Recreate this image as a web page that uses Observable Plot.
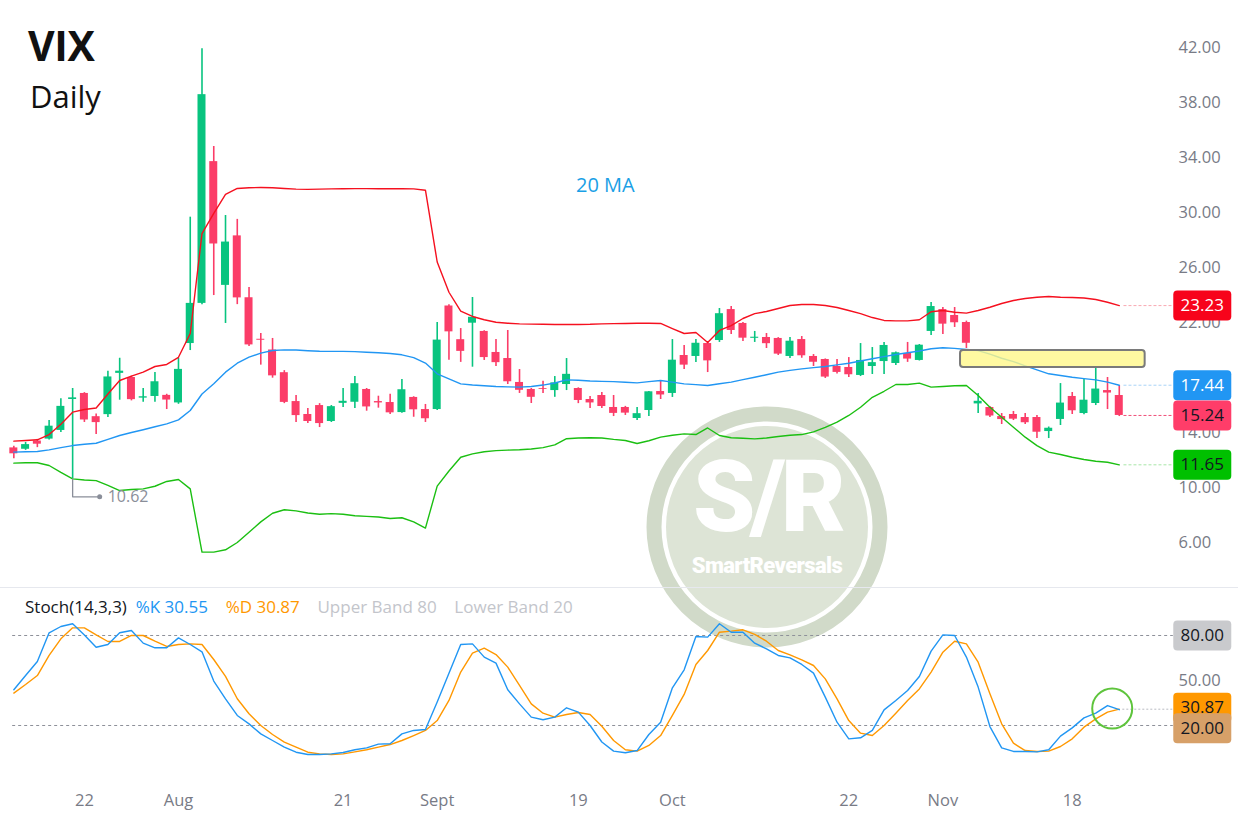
<!DOCTYPE html>
<html>
<head>
<meta charset="utf-8">
<script src="https://cdn.jsdelivr.net/npm/d3@7"></script>
<script src="https://cdn.jsdelivr.net/npm/@observablehq/plot@0.6"></script>
<style>
  html, body { margin: 0; padding: 0; background: #ffffff; }
  #root { position: relative; width: 1238px; height: 816px; overflow: hidden; font-family: "Open Sans", "Noto Sans", sans-serif; }
  .layer { position: absolute; left: 0; }
  #title { position: absolute; left: 28px; top: 17px; font-size: 41px; font-weight: 700; color: #111; letter-spacing: -0.3px; }
  #sub { position: absolute; left: 30px; top: 75px; font-size: 31px; color: #111; }
  #stochHead { position: absolute; left: 25px; top: 595px; font-size: 17px; white-space: pre; }
  #sep { position: absolute; left: 0; top: 587px; width: 1238px; height: 1px; background: #e6e8ee; }
</style>
</head>
<body>
<div id="root">
  <div id="wm" class="layer" style="top:0"></div>
  <div id="main" class="layer" style="top:0"></div>
  <div id="sep"></div>
  <div id="stoch" class="layer" style="top:588px"></div>
  <div id="title">VIX</div>
  <div id="sub">Daily</div>
  <div id="stochHead"><span style="color:#131722">Stoch(14,3,3)</span>  <span style="color:#2196f3">%K 30.55</span>    <span style="color:#ff9800">%D 30.87</span>    <span style="color:#c3c5cb">Upper Band 80</span>    <span style="color:#c3c5cb">Lower Band 20</span></div>
</div>
<script>
// ---------------- DATA ----------------
const dates = [
  "2024-07-12","2024-07-15","2024-07-16","2024-07-17","2024-07-18","2024-07-19","2024-07-22","2024-07-23","2024-07-24","2024-07-25","2024-07-26","2024-07-29","2024-07-30","2024-07-31",
  "2024-08-01","2024-08-02","2024-08-05","2024-08-06","2024-08-07","2024-08-08","2024-08-09","2024-08-12","2024-08-13","2024-08-14","2024-08-15","2024-08-16","2024-08-19","2024-08-20","2024-08-21","2024-08-22","2024-08-23","2024-08-26","2024-08-27","2024-08-28","2024-08-29","2024-08-30",
  "2024-09-03","2024-09-04","2024-09-05","2024-09-06","2024-09-09","2024-09-10","2024-09-11","2024-09-12","2024-09-13","2024-09-16","2024-09-17","2024-09-18","2024-09-19","2024-09-20","2024-09-23","2024-09-24","2024-09-25","2024-09-26","2024-09-27","2024-09-30",
  "2024-10-01","2024-10-02","2024-10-03","2024-10-04","2024-10-07","2024-10-08","2024-10-09","2024-10-10","2024-10-11","2024-10-14","2024-10-15","2024-10-16","2024-10-17","2024-10-18","2024-10-21","2024-10-22","2024-10-23","2024-10-24","2024-10-25","2024-10-28","2024-10-29","2024-10-30","2024-10-31",
  "2024-11-01","2024-11-04","2024-11-05","2024-11-06","2024-11-07","2024-11-08","2024-11-11","2024-11-12","2024-11-13","2024-11-14","2024-11-15","2024-11-18","2024-11-19","2024-11-20","2024-11-21","2024-11-22"
];
const open = [12.88,12.78,13.38,13.52,14.15,16.40,16.84,15.15,15.30,18.30,18.00,16.50,16.62,16.70,
  16.15,20.47,23.39,33.70,24.70,28.30,23.80,20.78,20.00,18.35,16.25,15.31,15.96,14.80,16.12,16.20,17.13,16.25,16.18,15.45,16.55,15.67,
  15.67,23.20,20.75,21.95,21.35,19.82,19.38,17.64,17.13,17.20,17.05,17.49,17.20,16.40,16.69,15.82,15.82,15.02,15.60,16.98,
  16.84,19.60,19.53,20.47,20.69,22.94,21.93,20.85,20.91,20.84,19.53,20.76,19.53,19.31,18.80,18.73,18.15,18.80,19.16,19.02,19.75,19.24,21.35,
  22.94,22.51,22.00,16.08,15.82,15.16,15.31,15.09,15.09,14.07,14.95,16.62,15.38,16.11,17.05,16.69];
const high = [13.00,13.28,13.50,14.87,16.45,17.20,16.90,15.35,18.46,19.40,18.10,17.20,18.36,16.78,
  19.40,29.66,41.90,34.80,29.78,29.50,24.55,21.20,20.84,18.50,16.70,15.75,16.10,15.96,17.20,18.07,17.20,16.64,16.78,17.85,16.60,16.04,
  22.00,23.30,21.56,23.82,21.40,20.76,21.42,18.58,17.20,17.73,18.07,19.38,17.25,16.62,16.91,16.69,15.90,15.82,16.98,17.71,
  20.76,20.33,20.76,20.62,23.02,23.16,22.00,21.35,21.20,20.90,20.91,20.98,19.67,19.35,19.31,19.45,20.47,20.18,20.55,19.85,20.55,20.40,23.45,
  23.09,23.09,22.10,16.84,15.90,15.38,15.53,15.38,15.24,14.40,17.56,16.91,17.85,18.73,18.00,17.42];
const low = [12.10,12.70,12.90,13.45,14.00,10.62,14.73,13.85,15.10,16.35,16.30,16.20,16.20,15.67,
  16.05,19.96,23.30,23.96,21.93,23.30,20.25,18.90,17.95,16.10,14.73,14.65,14.36,14.73,15.82,15.75,15.55,15.77,15.31,15.40,15.11,14.73,
  15.60,19.25,19.10,18.75,19.24,18.80,17.49,16.84,16.11,16.84,16.56,17.05,16.10,15.75,15.75,15.16,15.24,14.87,15.16,16.40,
  16.55,18.58,19.10,18.36,20.55,21.13,20.62,20.55,20.11,19.60,19.38,19.40,18.80,17.93,18.25,18.00,18.07,18.22,18.22,18.87,19.10,19.20,21.05,
  21.13,21.64,20.11,15.38,15.09,14.58,14.87,14.58,13.56,13.56,14.51,15.31,15.30,15.96,15.67,15.16];
const close = [12.45,13.12,13.15,14.46,15.90,16.52,14.91,14.72,18.04,18.46,16.39,16.60,17.69,16.36,
  18.59,23.39,38.57,27.71,27.85,23.79,20.37,20.71,18.12,16.19,15.23,14.80,14.65,15.88,16.27,17.55,15.86,16.15,15.43,17.11,15.65,15.00,
  20.72,21.32,19.90,22.38,19.45,19.08,17.69,17.07,16.56,17.14,17.61,18.23,16.33,16.15,15.89,15.39,15.41,15.37,16.96,16.73,
  19.26,18.90,20.49,19.21,22.64,21.42,20.86,20.93,20.46,19.70,20.64,19.58,19.11,18.03,18.37,18.20,19.24,19.08,20.33,19.80,19.34,20.35,23.16,
  21.88,21.98,20.49,16.27,15.20,14.94,14.97,14.71,14.02,14.31,16.14,15.58,16.35,17.16,16.87,15.24];
// Bollinger Bands (20 MA)
const upperBand = [13.37,13.42,13.47,13.85,14.60,15.48,15.67,15.78,16.80,17.78,18.10,18.39,18.80,18.95,
  19.47,21.20,28.47,29.93,31.31,31.75,31.80,31.82,31.80,31.75,31.70,31.68,31.70,31.72,31.73,31.74,31.74,31.73,31.73,31.74,31.72,31.62,
  26.40,24.20,22.82,22.44,22.20,22.02,21.95,21.90,21.88,21.87,21.86,21.86,21.86,21.87,21.90,21.92,21.93,21.95,21.95,21.93,
  21.56,21.20,21.27,20.55,21.42,21.78,22.29,22.65,22.80,23.02,23.24,23.31,23.31,23.24,23.09,22.87,22.65,22.36,22.15,22.12,22.12,22.20,22.78,
  22.87,22.75,22.68,22.87,23.11,23.38,23.60,23.75,23.84,23.89,23.84,23.82,23.78,23.67,23.47,23.23];
const middleBand = [12.57,12.60,12.62,12.74,12.90,13.05,13.15,13.22,13.50,13.78,14.00,14.20,14.42,14.63,
  14.92,15.60,16.80,17.54,18.39,19.04,19.48,19.77,19.96,20.01,20.00,19.95,19.91,19.90,19.90,19.88,19.84,19.80,19.75,19.65,19.45,19.05,
  18.27,17.90,17.54,17.45,17.40,17.35,17.32,17.30,17.35,17.45,17.60,17.83,17.80,17.75,17.72,17.70,17.66,17.61,17.70,17.78,
  17.66,17.54,17.48,17.42,17.55,17.66,17.85,18.02,18.20,18.39,18.52,18.63,18.72,18.80,18.92,19.04,19.20,19.36,19.52,19.67,19.80,19.93,20.09,
  20.16,20.12,20.04,19.96,19.70,19.40,19.15,18.85,18.55,18.27,18.15,18.02,17.92,17.83,17.66,17.44];
const lowerBand = [11.77,11.80,11.80,11.60,11.10,10.63,10.55,10.50,10.15,9.78,9.85,9.90,10.09,10.44,
  10.58,9.90,5.30,5.30,5.47,6.00,6.75,7.50,8.13,8.38,8.30,8.15,8.05,8.10,8.05,7.95,7.90,7.85,7.75,7.80,7.50,7.05,
  10.10,11.20,12.20,12.45,12.60,12.68,12.72,12.75,12.80,12.90,13.10,13.55,13.60,13.62,13.60,13.50,13.42,13.20,13.40,13.66,
  13.80,13.90,13.85,14.33,13.78,13.62,13.58,13.54,13.60,13.71,13.80,13.85,14.05,14.38,14.75,15.24,15.84,16.56,17.00,17.49,17.49,17.59,17.30,
  17.35,17.40,17.42,16.69,15.84,15.11,14.38,13.66,13.05,12.57,12.40,12.20,12.04,11.91,11.84,11.65];
// Stochastic (14,3,3)
const stochK = [43.8,53.3,62.7,81.8,86.0,87.8,80.4,72.2,74.0,81.8,83.3,74.9,71.8,71.8,78.4,74.0,69.1,49.6,37.8,26.7,21.1,14.4,10.0,5.6,2.2,0.7,0.7,1.1,2.0,3.8,5.1,7.6,7.8,14.4,16.7,17.3,35.6,54.9,74.0,74.4,65.6,61.6,43.8,34.4,25.6,23.8,25.6,31.8,28.9,20.0,9.0,2.9,1.8,3.3,14.0,22.2,45.1,57.1,79.3,78.9,87.8,82.2,82.2,74.9,71.1,66.7,65.1,60.7,54.9,38.9,22.2,11.1,11.8,16.7,30.4,36.7,43.3,52.7,69.6,80.4,80.0,65.6,45.6,19.3,5.1,2.7,2.7,2.4,3.8,12.9,18.4,25.1,28.2,33.3,30.55];
const stochD = [41.6,47.3,53.3,66.7,77.8,85.1,85.1,80.4,76.0,76.0,80.0,80.0,76.2,72.7,74.0,74.4,74.0,64.0,52.7,37.8,27.8,20.0,14.0,8.9,5.6,2.2,1.1,0.7,1.1,2.4,3.8,5.6,7.3,10.0,13.3,16.7,23.3,36.7,55.6,68.2,71.6,67.3,58.9,46.7,34.4,28.2,25.6,27.3,28.7,27.3,19.5,10.0,3.8,2.9,6.7,13.3,26.7,40.7,60.7,70.0,82.2,82.9,83.8,80.7,76.2,70.0,67.1,63.8,60.0,51.1,37.8,23.3,14.9,13.3,20.0,28.2,36.7,44.4,55.6,68.9,76.2,74.4,62.2,41.1,21.1,8.2,3.3,2.7,2.9,6.0,11.1,18.9,24.4,28.9,30.87];

const priceTicks = [6, 10, 14, 22, 26, 30, 34, 38, 42];
const xTickDates = ["2024-07-22","2024-08-01","2024-08-21","2024-09-03","2024-09-19","2024-10-01","2024-10-22","2024-11-01","2024-11-18"];
const xTickLabels = ["22","Aug","21","Sept","19","Oct","22","Nov","18"];
const lastBadges = [
  {label: "23.23", value: 23.23, bg: "#f7031b", fg: "#ffffff", line: "#f9a9b2"},
  {label: "17.44", value: 17.44, bg: "#2196f3", fg: "#ffffff", line: "#a9d4f7"},
  {label: "15.24", value: 15.24, bg: "#ff3d69", fg: "#131722", line: "#f0507a"},
  {label: "11.65", value: 11.65, bg: "#00c000", fg: "#131722", line: "#a8e6a8"}
];
const zone = {start: "2024-11-04", end: "2024-11-22", low: 18.73, high: 19.96};
const lowNote = {date: "2024-07-19", value: 10.62};
const maLabel = {date: "2024-09-23", value: 31.96, text: "20 MA"};
const stochBadges = [
  {label: "80.00", value: 80, bg: "#c9cacd", fg: "#131722"},
  {label: "30.87", value: 31.9, bg: "#ff9800", fg: "#131722"},
  {label: "20.00", value: 18.2, bg: "#d7a068", fg: "#131722"}
];
const stochTicks = [50];

// ---------------- BUILD ----------------
const GREEN = "#08c47f", RED = "#fb3d68";
const candles = dates.map((d, k) => ({k, date: d, o: open[k], h: high[k], l: low[k], c: close[k],
  col: close[k] >= open[k] ? GREEN : RED}));
const idx = d => dates.indexOf(d);
const lastK = dates.length - 1;
const W = 1238, MR = 88;
const xDomain = [-1.134, 96.655];

function badge(w, h, r) {
  return {draw(ctx) {
    const x0 = -w / 2, y0 = -h / 2;
    ctx.moveTo(x0 + r, y0);
    ctx.lineTo(x0 + w - r, y0); ctx.arcTo(x0 + w, y0, x0 + w, y0 + r, r);
    ctx.lineTo(x0 + w, y0 + h - r); ctx.arcTo(x0 + w, y0 + h, x0 + w - r, y0 + h, r);
    ctx.lineTo(x0 + r, y0 + h); ctx.arcTo(x0, y0 + h, x0, y0 + h - r, r);
    ctx.lineTo(x0, y0 + r); ctx.arcTo(x0, y0, x0 + r, y0, r);
    ctx.closePath();
  }};
}
const BADGE = badge(58, 30, 4);
const badgeDx = 83; // from last candle centre to badge centre

const bandLine = (arr, color) => Plot.line(arr.map((v, k) => ({k, v})), {x: "k", y: "v", stroke: color, strokeWidth: 1.4});

const mainPlot = Plot.plot({
  width: W, height: 588,
  marginLeft: 0, marginRight: MR, marginTop: 0, marginBottom: 0,
  style: {background: "transparent", color: "#787b86", fontFamily: "'Open Sans', 'Noto Sans', sans-serif", fontSize: "16px", overflow: "visible"},
  x: {domain: xDomain, axis: null},
  y: {domain: [2.655, 45.418], axis: null},
  color: {type: "identity"},
  marks: [
    Plot.axisY(priceTicks, {anchor: "right", tickSize: 0, tickPadding: 28, tickFormat: d => d.toFixed(2), fontSize: 16.5, label: null}),
    // wicks and bodies
    Plot.ruleX(candles, {x: "k", y1: "l", y2: "h", stroke: "col", strokeWidth: 1.6}),
    Plot.rect(candles, {x1: d => d.k - 0.34, x2: d => d.k + 0.34, y1: "o", y2: "c", fill: "col"}),
    // Bollinger bands
    bandLine(lowerBand, "#1bbf12"),
    bandLine(upperBand, "#f5101f"),
    bandLine(middleBand, "#2196f3"),
    // highlighted zone
    Plot.rect([zone], {x1: d => idx(d.start) + 0.5, x2: d => idx(d.end) + 2.2, y1: "low", y2: "high",
      fill: "#fff78a", fillOpacity: 0.8, stroke: "#7a7a7a", strokeWidth: 2, rx: 3}),
    // low annotation
    Plot.line([{x: idx(lowNote.date), y: lowNote.value}, {x: idx(lowNote.date), y: lowNote.value - 1.3}, {x: idx(lowNote.date) + 2.3, y: lowNote.value - 1.3}],
      {x: "x", y: "y", stroke: "#8a8e99", strokeWidth: 1.3}),
    Plot.dot([{x: idx(lowNote.date) + 2.3, y: lowNote.value - 1.3}], {x: "x", y: "y", r: 2.5, fill: "#8a8e99"}),
    Plot.text([lowNote], {x: d => idx(d.date) + 2.3, y: d => d.value - 1.3, text: d => d.value.toFixed(2), dx: 8, textAnchor: "start", fill: "#8a8e99", fontSize: 16}),
    // 20 MA label
    Plot.text([maLabel], {x: d => idx(d.date) + 0.3, y: "value", text: "text", fill: "#1a9fe6", fontSize: 20}),
    // last value guide lines and badges
    Plot.ruleY(lastBadges, {y: "value", x1: lastK + 0.4, x2: lastK + 4.6, stroke: "line", strokeDasharray: "3,2", strokeWidth: 1}),
    Plot.dot(lastBadges, {x: () => lastK, y: "value", dx: badgeDx, symbol: BADGE, r: 5, fill: "bg", stroke: "none"}),
    Plot.text(lastBadges, {x: () => lastK, y: "value", dx: badgeDx, text: "label", fill: "fg", fontSize: 17})
  ]
});
document.getElementById("main").appendChild(mainPlot);

const kData = stochK.map((v, k) => ({k, v}));
const dData = stochD.map((v, k) => ({k, v}));
const stochPlot = Plot.plot({
  width: W, height: 228,
  marginLeft: 0, marginRight: MR, marginTop: 0, marginBottom: 40,
  style: {background: "transparent", color: "#787b86", fontFamily: "'Open Sans', 'Noto Sans', sans-serif", fontSize: "16px", overflow: "visible"},
  x: {domain: xDomain, axis: null},
  y: {domain: [-14, 111.33], axis: null},
  color: {type: "identity"},
  marks: [
    Plot.axisX(xTickDates.map(idx), {anchor: "bottom", tickSize: 0, tickPadding: 18, label: null,
      tickFormat: k => xTickLabels[xTickDates.indexOf(dates[k])], fontSize: 16.5}),
    Plot.axisY(stochTicks, {anchor: "right", tickSize: 0, tickPadding: 28, tickFormat: d => d.toFixed(2), fontSize: 16.5, label: null}),
    Plot.ruleY([80, 20], {x1: -0.1, x2: lastK + 4.6, stroke: "#8d9099", strokeDasharray: "3,3", strokeWidth: 1}),
    Plot.ruleY([30.87], {x1: lastK + 0.3, x2: lastK + 4.6, stroke: "#b8bbc2", strokeDasharray: "2,2", strokeWidth: 1}),
    Plot.line(dData, {x: "k", y: "v", stroke: "#ff9800", strokeWidth: 1.4}),
    Plot.line(kData, {x: "k", y: "v", stroke: "#2196f3", strokeWidth: 1.4}),
    Plot.dot([{k: lastK - 0.6, v: 31.3}], {x: "k", y: "v", r: 20, stroke: "#5ec43c", strokeWidth: 2, fill: "none"}),
    Plot.dot(stochBadges, {x: () => lastK, y: "value", dx: badgeDx, symbol: BADGE, r: 5, fill: "bg", stroke: "none"}),
    Plot.text(stochBadges, {x: () => lastK, y: "value", dx: badgeDx, text: "label", fill: "fg", fontSize: 17})
  ]
});
document.getElementById("stoch").appendChild(stochPlot);

// ---------------- WATERMARK ----------------
const wm = d3.select("#wm").append("svg").attr("width", W).attr("height", 816);
const cx = 767, cy = 527;
wm.append("circle").attr("cx", cx).attr("cy", cy).attr("r", 113).attr("fill", "none").attr("stroke", "#d1dac9").attr("stroke-width", 15);
wm.append("circle").attr("cx", cx).attr("cy", cy).attr("r", 101).attr("fill", "#dde4d6");
wm.append("text").attr("x", cx).attr("y", cy + 4).attr("text-anchor", "middle").attr("fill", "#ffffff")
  .attr("font-family", "Roboto, 'Open Sans', sans-serif").attr("font-weight", 900).attr("font-size", 100).attr("letter-spacing", -5).text("S/R");
wm.append("text").attr("x", cx).attr("y", cy + 46).attr("text-anchor", "middle").attr("fill", "#ffffff")
  .attr("font-family", "Roboto, 'Open Sans', sans-serif").attr("font-weight", 900).attr("font-size", 22).attr("letter-spacing", -0.6).text("SmartReversals");
</script>
</body>
</html>
